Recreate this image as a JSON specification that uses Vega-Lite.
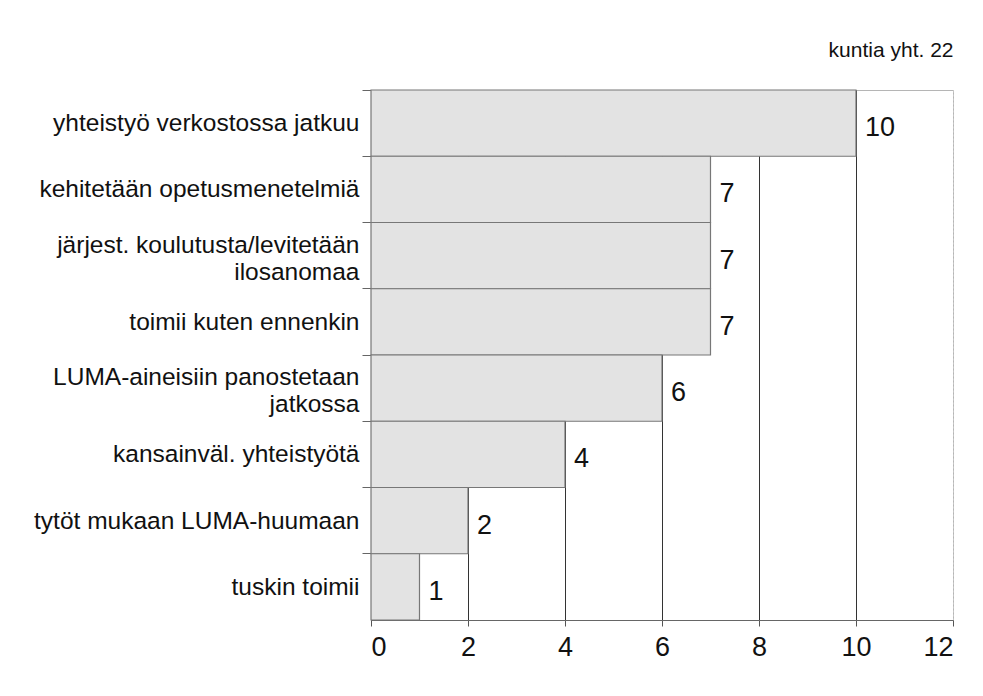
{
  "$schema": "https://vega.github.io/schema/vega-lite/v6.json",
  "width": 582,
  "height": 530,
  "autosize": "none",
  "padding": {"left": 371, "top": 90, "right": 30, "bottom": 76},
  "background": "white",
  "title": {"text": "kuntia yht. 22", "anchor": "end", "fontSize": 21, "fontWeight": "normal", "font": "Liberation Sans", "color": "#111", "baseline": "alphabetic", "offset": 11},
  "config": {
    "font": "Liberation Sans",
    "view": {"stroke": "#b5b5b5", "strokeWidth": 1}
  },
  "data": {"values": [
    {"vastaus": "yhteistyö verkostossa jatkuu", "kuntia": 10},
    {"vastaus": "kehitetään opetusmenetelmiä", "kuntia": 7},
    {"vastaus": "järjest. koulutusta/levitetään|ilosanomaa", "kuntia": 7},
    {"vastaus": "toimii kuten ennenkin", "kuntia": 7},
    {"vastaus": "LUMA-aineisiin panostetaan|jatkossa", "kuntia": 6},
    {"vastaus": "kansainväl. yhteistyötä", "kuntia": 4},
    {"vastaus": "tytöt mukaan LUMA-huumaan", "kuntia": 2},
    {"vastaus": "tuskin toimii", "kuntia": 1}
  ]},
  "encoding": {
    "y": {"field": "vastaus", "type": "nominal", "sort": null,
      "scale": {"paddingInner": 0, "paddingOuter": 0},
      "axis": {"title": null, "labelExpr": "split(datum.label, '|')", "labelFontSize": 24.5, "labelLineHeight": 27, "labelColor": "#111", "labelPadding": 3, "tickSize": 9, "tickColor": "#666", "domainColor": "#666", "bandPosition": 0, "labelLimit": 400,
        "labelOffset": {"condition": {"test": "indexof(datum.value, '|') >= 0", "value": -10}, "value": 1}}},
    "x": {"field": "kuntia", "type": "quantitative",
      "scale": {"domain": [0, 12], "nice": false},
      "axis": {"title": null, "values": [0, 2, 4, 6, 8, 10, 12], "labelFontSize": 27, "labelColor": "#111", "labelPadding": 8, "tickSize": 6, "tickColor": "#555", "domainColor": "#666", "grid": true, "gridColor": {"condition": {"test": "datum.value === 12", "value": "#c8c8c8"}, "value": "#333"}, "gridDash": {"condition": {"test": "datum.value === 12", "value": [2, 2]}, "value": []}}}
  },
  "layer": [
    {"mark": {"type": "bar", "fill": "#e3e3e3", "stroke": "#777", "strokeWidth": 1.2}},
    {"mark": {"type": "text", "align": "left", "baseline": "middle", "dx": 9, "dy": 5, "fontSize": 27, "color": "#111"},
      "encoding": {"text": {"field": "kuntia", "type": "quantitative"}}}
  ]
}
